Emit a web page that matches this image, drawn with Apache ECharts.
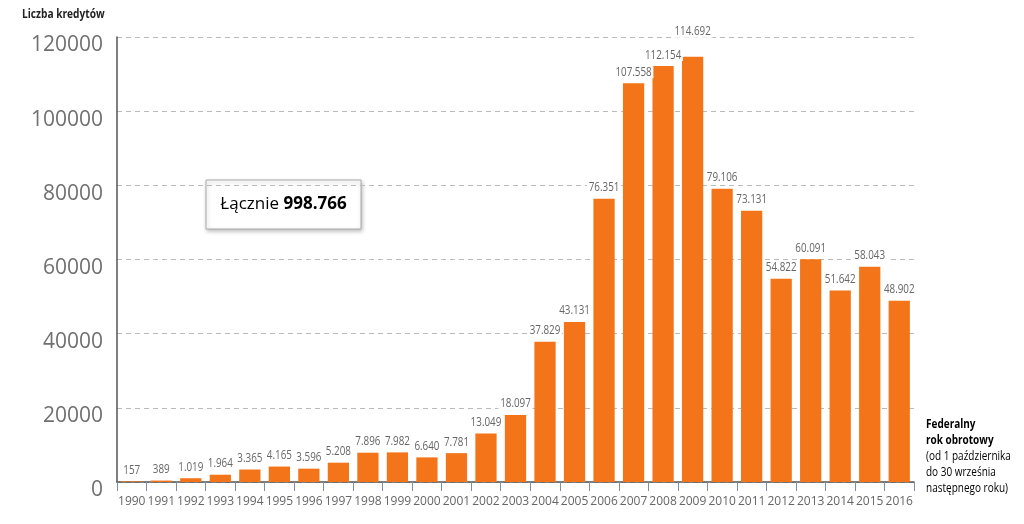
<!DOCTYPE html>
<html>
<head>
<meta charset="utf-8">
<script src="https://cdn.jsdelivr.net/npm/echarts@6/dist/echarts.min.js"></script>
<style>html,body{margin:0;padding:0;background:#fff}#c{width:1024px;height:524px}</style>
</head>
<body>
<div id="c"></div>
<script>
const years = ['1990','1991','1992','1993','1994','1995','1996','1997','1998','1999','2000','2001','2002','2003','2004','2005','2006','2007','2008','2009','2010','2011','2012','2013','2014','2015','2016'];
const loans = [157,389,1019,1964,3365,4165,3596,5208,7896,7982,6640,7781,13049,18097,37829,43131,76351,107558,112154,114692,79106,73131,54822,60091,51642,58043,48902];
const yTicks = [0,20000,40000,60000,80000,100000,120000];
const yAxisTitle = 'Liczba kredytów';
const totalLabel = 'Łącznie';
const totalValue = '998.766';
const noteLines = ['Federalny','rok obrotowy','(od 1 października','do 30 września','następnego roku)'];

function fmt(v){ return String(v).replace(/\B(?=(\d{3})+(?!\d))/g,'.'); }

const FONT = '"Open Sans", "Noto Sans", sans-serif';
const maxVal = Math.max.apply(null, loans);
const chart = echarts.init(document.getElementById('c'));
chart.setOption({
  animation:false,
  textStyle:{fontFamily:FONT},
  grid:{left:117,right:110,top:37,bottom:42,containLabel:false},
  xAxis:{
    type:'category',data:years,
    axisLine:{lineStyle:{color:'#555',width:1.5}},
    axisTick:{show:true,alignWithLabel:false,length:9,lineStyle:{color:'#7f8fa0'}},
    axisLabel:{color:'#666',fontSize:12,margin:14,interval:0,fontFamily:FONT}
  },
  yAxis:{
    type:'value',min:yTicks[0],max:yTicks[yTicks.length-1],interval:20000,
    axisLine:{show:true,lineStyle:{color:'#555',width:1.5}},
    axisTick:{show:false},
    axisLabel:{color:'#707070',fontSize:21,margin:14,fontFamily:FONT,verticalAlign:'top',padding:[-2,0,0,0],formatter:v=>String(v)},
    splitLine:{lineStyle:{color:'#bbb',type:[5,4],width:1}}
  },
  series:[{
    type:'bar',data:loans,barWidth:'72%',
    itemStyle:{color:'#F37419'},
    z:2
  },{
    type:'custom',data:loans.map((v,i)=>[i,v]),z:3,
    renderItem:function(params,api){
      const v = api.value(1);
      const p = api.coord([api.value(0), v]);
      const lift = (v===maxVal) ? 14 : 0;
      return {type:'text',x:p[0],y:p[1]-5-lift,scaleX:0.82,
        style:{text:fmt(v),fontSize:12,fontFamily:FONT,fill:'#666',align:'center',verticalAlign:'bottom',
          backgroundColor:'#fff',padding:[0,2]}};
    }
  }],
  graphic:[
    {type:'text',x:22,y:8,scaleX:0.78,style:{text:yAxisTitle,font:'bold 13px '+FONT,fill:'#222'}},
    {type:'rect',shape:{x:206,y:180,width:155,height:49},
      style:{fill:'#fff',stroke:'#aaa',lineWidth:1,shadowBlur:4,shadowOffsetX:1,shadowOffsetY:2,shadowColor:'rgba(0,0,0,0.25)'}},
    {type:'text',x:283.5,y:204.5,style:{
      text:'{a|'+totalLabel+' }{b|'+totalValue+'}',
      align:'center',verticalAlign:'middle',
      rich:{a:{fontSize:17,color:'#555',fontFamily:FONT},b:{fontSize:17,fontWeight:'bold',color:'#333',fontFamily:FONT}}
    }},
    {type:'text',x:926,y:416,scaleX:0.8,style:{
      text:'{b|'+noteLines[0]+'}\n{b|'+noteLines[1]+'}\n{n|'+noteLines[2]+'}\n{n|'+noteLines[3]+'}\n{n|'+noteLines[4]+'}',
      rich:{b:{fontSize:12.5,fontWeight:'bold',color:'#444',lineHeight:16,fontFamily:FONT},
            n:{fontSize:12.5,color:'#666',lineHeight:16,fontFamily:FONT}}
    }}
  ]
});
</script>
</body>
</html>
